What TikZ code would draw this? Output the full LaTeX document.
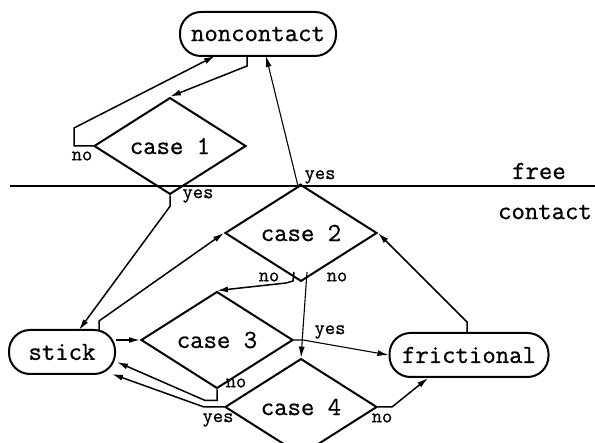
\documentclass[tikz,border=0pt]{standalone}
\usepackage{fontspec}
\newfontfamily\ttheavy{Latin Modern Mono}[FakeBold=0.8]
\usetikzlibrary{shapes.geometric,arrows.meta}
\newcommand\mainfnt{\ttheavy\fontsize{26}{30}\selectfont}
\newcommand\smallfnt{\ttheavy\fontsize{20}{23}\selectfont}
\begin{document}
\begin{tikzpicture}[x=1pt,y=-1pt,
  state/.style={draw, line width=2pt, rounded corners=21pt, minimum height=44pt, inner sep=0pt, font=\mainfnt},
  dia/.style={draw, diamond, line width=2pt, minimum width=152pt, minimum height=77pt, inner sep=0pt, font=\mainfnt},
  conn/.style={line width=1.5pt, -{Latex[length=11pt,width=6pt]}},
  lbl/.style={inner sep=0pt, font=\smallfnt},
  zone/.style={inner sep=0pt, font=\mainfnt}]
\useasboundingbox (0,0) rectangle (595,443);
% nodes
\node[state, minimum width=156pt] (nc) at (258,34) {noncontact};
\node[state, minimum width=106pt] (st) at (62,352) {stick};
\node[state, minimum width=159pt] (fr) at (469,355) {frictional};
\node[dia] (c1) at (170,146) {case 1};
\node[dia] (c2) at (301,233) {case 2};
\node[dia] (c3) at (217,340) {case 3};
\node[dia] (c4) at (301,407) {case 4};
% separator
\coordinate (fl) at (10,186);
\coordinate (fe) at (595,186);
\draw[line width=2pt] (fl) -- (fe);
\node[zone] (free) at (539,171) {free};
\node[zone] (contact) at (545,212) {contact};
% junction coordinates
\coordinate (n1) at (215,56);
\coordinate (n2) at (247,56);
\coordinate (n3) at (266,56);
\coordinate (s1) at (79,330);
\coordinate (s2) at (99,330);
\coordinate (s3) at (117,362);
\coordinate (s4) at (112,374);
\coordinate (f1) at (467,332);
\coordinate (f2) at (428,378);
\coordinate (b2l) at (294,272);
\coordinate (b2r) at (307,272);
% connectors
\draw[conn] (c1.west) -- ++(-19,0) -- ++(0,-18) -- (n1);
\draw[conn] (n2) -- ++(0,10) -- (c1.north);
\draw[conn, line width=1.1pt] (c2.north) -- (298,186) -- (n3);
\draw[conn] (c1.south) -- ++(0,11) -- (s1);
\draw[conn] (s2) -- ++(0,-9) -- (c2.west);
\draw[conn] (st.east |- c3.west) -- (c3.west);
\draw[conn] (c3.south) -- ++(0,11) -- ++(-12,0) -- (s3);
\draw[conn] (c4.west) -- ++(-20,0) -- (s4);
\draw[conn] (b2l) -- ++(-1,9) -- ++(-7,2) -- (c3.north);
\draw[conn, line width=1.1pt] (b2r) -- (c4.north);
\draw[conn, line width=1.1pt] (c3.east) -- ++(9,0) -- (fr.west);
\draw[conn] (f1) -- ++(0,-10) -- (c2.east);
\draw[conn] (c4.east) -- ++(14,0) -- (f2);
% labels
\node[lbl] (l1) at (82,156) {no};
\node[lbl] (l2) at (198,196) {yes};
\node[lbl] (l3) at (320,177) {yes};
\node[lbl] (l4) at (269,277) {no};
\node[lbl] (l5) at (337,277) {no};
\node[lbl] (l6) at (330,332) {yes};
\node[lbl] (l7) at (236,383) {no};
\node[lbl] (l8) at (218,420) {yes};
\node[lbl] (l9) at (382,418) {no};
\end{tikzpicture}
\end{document}
